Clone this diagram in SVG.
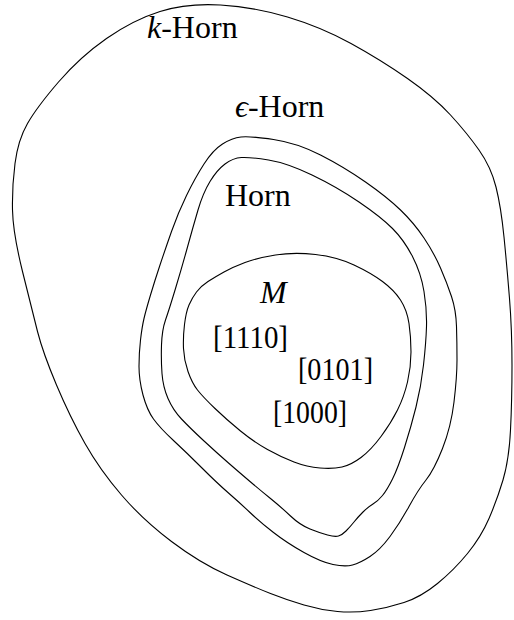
<svg xmlns="http://www.w3.org/2000/svg" width="514" height="620" viewBox="0 0 514 620">
<style>
.c{fill:none;stroke:#000;stroke-width:1.1;stroke-linejoin:round}
.t{font-family:"Liberation Serif","Times New Roman",serif;font-size:32px;fill:#000}
.i{font-style:italic}
</style>
<rect width="514" height="620" fill="#fff"/>
<g id="connectors"></g>
<g id="k-horn">
<path class="c" d="M 160,11.5 Q 187,3 220.5,5 Q 254,7 287.5,17 Q 321,27 351,43.5 Q 381,60 407.5,78.5 Q 434,97 450.5,115 Q 467,133 479,150 Q 491,167 496,187 Q 501,207 504,237 Q 507,267 509.5,298.5 Q 512,330 512,365 Q 512,400 510.5,430 Q 509,460 503,480 Q 497,500 489,518.5 Q 481,537 467.5,553.5 Q 454,570 437.5,583.5 Q 421,597 404,602.5 Q 387,608 370.5,610.5 Q 354,613 337.5,611.5 Q 321,610 304,605 Q 287,600 270.5,593.5 Q 254,587 227,575 Q 200,563 171.5,541.5 Q 143,520 121.5,495 Q 100,470 85,443.5 Q 70,417 56.5,385 Q 43,353 37.5,331.5 Q 32,310 22.5,271.5 Q 13,233 12.5,210 Q 12,187 15,163.5 Q 18,140 27.5,123.5 Q 37,107 58.5,82 Q 80,57 106.5,38.5 Q 133,20 160,11.5 Z"/>
<text class="t" x="147" y="38"><tspan class="i">k</tspan>-Horn</text>
</g>
<g id="eps-horn">
<path class="c" d="M 241,137 Q 250,136 273.5,139.5 Q 297,143 320.5,155 Q 344,167 365.5,182 Q 387,197 400.5,210 Q 414,223 424,238 Q 434,253 440.5,268 Q 447,283 451.5,296.5 Q 456,310 456.5,326.5 Q 457,343 457,360 Q 457,377 454,402 Q 451,427 442.5,448.5 Q 434,470 426,480 Q 418,490 409,506.5 Q 400,523 390,536.5 Q 380,550 370,556.5 Q 360,563 352.5,565 Q 345,567 333,564.5 Q 321,562 304,552.5 Q 287,543 273.5,532.5 Q 260,522 250,512.5 Q 240,503 228.5,493 Q 217,483 202,468 Q 187,453 173.5,440.5 Q 160,428 153.5,419 Q 147,410 143,395 Q 139,380 139,366.5 Q 139,353 140.5,340 Q 142,327 144,318.5 Q 146,310 150.5,295 Q 155,280 160,265 Q 165,250 171.5,231.5 Q 178,213 186.5,195.5 Q 195,178 204,164 Q 213,150 222.5,144 Q 232,138 241,137 Z"/>
<text class="t" x="235" y="117"><tspan class="i">ϵ</tspan>-Horn</text>
</g>
<g id="horn">
<path class="c" d="M 241.5,157.5 Q 250,157 268.5,160 Q 287,163 312,175 Q 337,187 359,202 Q 381,217 392.5,228.5 Q 404,240 412.5,256.5 Q 421,273 424,291.5 Q 427,310 426.5,326.5 Q 426,343 423.5,365 Q 421,387 416,407 Q 411,427 404.5,447.5 Q 398,468 392.5,479 Q 387,490 382.5,495.5 Q 378,501 373,504 Q 368,507 363,512 Q 358,517 354,522 Q 350,527 346,531 Q 342,535 338.5,536 Q 335,537 327.5,535 Q 320,533 310,529 Q 300,525 290.5,516 Q 281,507 270.5,498.5 Q 260,490 250,481.5 Q 240,473 228.5,463 Q 217,453 203.5,440.5 Q 190,428 181.5,419 Q 173,410 168,398.5 Q 163,387 162,373.5 Q 161,360 161.5,345 Q 162,330 165.5,320 Q 169,310 175.5,288.5 Q 182,267 187.5,247 Q 193,227 198,210 Q 203,193 210,181.5 Q 217,170 225,164 Q 233,158 241.5,157.5 Z"/>
<text class="t" x="225" y="206">Horn</text>
</g>
<g id="m">
<path class="c" d="M 245,262.5 Q 257,258 275.5,255 Q 294,252 315.5,254.5 Q 337,257 354,265 Q 371,273 382.5,281.5 Q 394,290 400.5,300 Q 407,310 409,323.5 Q 411,337 411,352 Q 411,367 407.5,382 Q 404,397 397.5,410 Q 391,423 381,436.5 Q 371,450 361,457.5 Q 351,465 342,467 Q 333,469 320,468 Q 307,467 294,462 Q 281,457 267.5,449.5 Q 254,442 240.5,431 Q 227,420 215,408.5 Q 203,397 197.5,390 Q 192,383 188,371.5 Q 184,360 183.5,348.5 Q 183,337 184.5,324.5 Q 186,312 189,305 Q 192,298 196.5,292 Q 201,286 208,281.5 Q 215,277 224,272 Q 233,267 245,262.5 Z"/>
<text class="t i" x="260" y="303">M</text>
<text class="t" x="213" y="348" textLength="75" lengthAdjust="spacingAndGlyphs">[1110]</text>
<text class="t" x="298" y="380" textLength="75" lengthAdjust="spacingAndGlyphs">[0101]</text>
<text class="t" x="273" y="423" textLength="74" lengthAdjust="spacingAndGlyphs">[1000]</text>
</g>
</svg>
